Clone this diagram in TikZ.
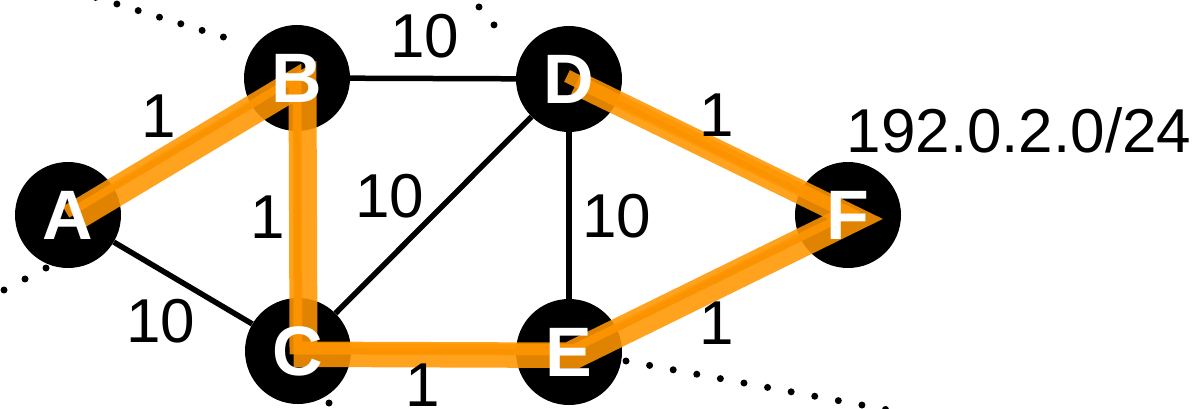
\documentclass[tikz,border=0pt]{standalone}
\usepackage{fontspec}
\setmainfont{Liberation Sans}
\definecolor{routeorange}{RGB}{255,150,0}
\begin{document}
\begin{tikzpicture}[x=1pt,y=-1pt,
  router/.style={circle,fill=black,minimum size=106pt,inner sep=0pt},
  rname/.style={text=white,inner sep=0pt,font=\fontsize{70}{84}\selectfont\bfseries},
  link/.style={line width=5.5pt,draw=black},
  cost/.style={inner sep=0pt,font=\fontsize{62}{74}\selectfont},
  routewide/.style={line width=24pt,draw=routeorange,opacity=0.88,line join=miter},
  routethin/.style={line width=13pt,draw=routeorange,opacity=0.88,line join=miter},
  outside/.style={line width=7pt,line cap=round,dash pattern=on 0pt off #1},
  outside/.default=23pt
]
\useasboundingbox (0,0) rectangle (1201,409);
\clip (0,0) rectangle (1201,409);

% dotted links to the rest of the network
\coordinate (o1a) at (95.6,-2.6);  \coordinate (o1b) at (225,37.5);
\coordinate (o2a) at (464,-11);    \coordinate (o2b) at (494.5,25.5);
\coordinate (o3a) at (46,268);     \coordinate (o3b) at (-17,301);
\coordinate (o4a) at (329,403);    \coordinate (o4b) at (336,425);
\coordinate (o5a) at (626,361);    \coordinate (o5b) at (910,414);
\draw[outside=22.3pt] (o1a) -- (o1b);
\draw[outside=23.4pt] (o2a) -- (o2b);
\draw[outside=23.7pt] (o3a) -- (o3b);
\draw[outside=23pt] (o4a) -- (o4b);
\draw[outside=24pt] (o5a) -- (o5b);

% routers
\node[router] (A) at (68,215) {};
\node[router] (B) at (297,78) {};
\node[router] (C) at (298,351) {};
\node[router] (D) at (569,79) {};
\node[router] (E) at (569,352) {};
\node[router] (F) at (848,215) {};

% links
\draw[link] (A) -- (B);
\draw[link] (A) -- (C);
\draw[link] (B) -- (C);
\draw[link] (B) -- (D);
\draw[link] (C) -- (D);
\draw[link] (C) -- (E);
\draw[link] (D) -- (E);
\draw[link] (D) -- (F);
\draw[link] (E) -- (F);

% highlighted route
\draw[routewide] ([shift={(7.5,4)}]A.center) -- ([shift={(7.5,4)}]B.center) -- ([shift={(7.5,4)}]C.center)
  -- ([shift={(7.5,4)}]E.center) -- ([shift={(7.5,4)}]F.center) -- ([shift={(7.5,4)}]D.center);
\draw[routethin] ([shift={(-2,-3)}]A.center) -- ([shift={(-2,-3)}]B.center) -- ([shift={(-2,-3)}]C.center)
  -- ([shift={(-2,-3)}]E.center) -- ([shift={(-2,-3)}]F.center) -- ([shift={(-2,-3)}]D.center);

% router names
\node[rname] (Al) at (A.center) {A};
\node[rname] (Bl) at (B.center) {B};
\node[rname] (Cl) at (C.center) {C};
\node[rname] (Dl) at (D.center) {D};
\node[rname] (El) at (E.center) {E};
\node[rname] (Fl) at (F.center) {F};

% costs
\node[cost] (cAB) at (159,116) {1};
\node[cost] (cBD) at (425,36) {10};
\node[cost] (cBC) at (268,217) {1};
\node[cost] (cCD) at (390,196) {10};
\node[cost] (cAC) at (161,321) {10};
\node[cost] (cCE) at (423,385) {1};
\node[cost] (cDE) at (617,216) {10};
\node[cost] (cDF) at (717,115) {1};
\node[cost] (cEF) at (717,323) {1};

% prefix
\node[cost] (pfx) at (1019,130) {192.0.2.0/24};
\end{tikzpicture}
\end{document}
